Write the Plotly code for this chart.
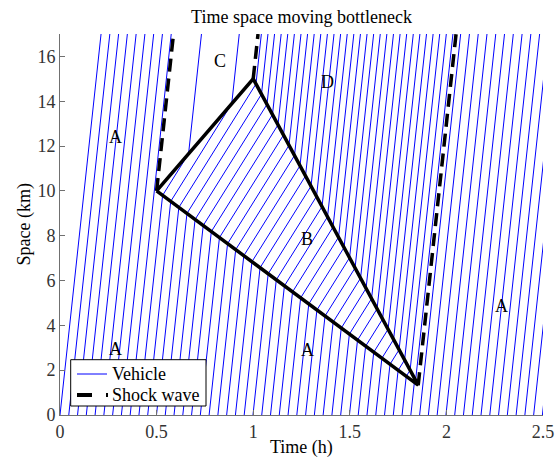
import plotly.graph_objects as go

# ---------------- data ----------------
# times (h) at which each vehicle trajectory leaves x = 0 km
vehicle_start_times = [
    0.0, 0.0454, 0.0908, 0.1362, 0.1816, 0.227, 0.2724, 0.3178, 0.3632, 0.4086,
    0.454, 0.4994, 0.5448, 0.5902, 0.6356, 0.681, 0.7264, 0.7718, 0.8172, 0.8626,
    0.908, 0.9534, 0.9988, 1.0442, 1.0896, 1.135, 1.1804, 1.2258, 1.2712, 1.3166,
    1.362, 1.4074, 1.4528, 1.4982, 1.5436, 1.589, 1.6344, 1.6798, 1.7252, 1.7706,
    1.816, 1.8614, 1.9068, 1.9522, 1.9976, 2.043, 2.0884, 2.1338, 2.1792, 2.2246,
    2.27, 2.3154, 2.3608, 2.4062, 2.4516, 2.497,
]
speed_free = 80.0    # km/h in states A, C, D
speed_queue = 13.8   # km/h in state B

# triangle (queue region B): bottleneck start, bottleneck exit, queue end
triangle_time = [0.5, 1.0, 1.854, 0.5]
triangle_space = [10.0, 15.0, 1.33, 10.0]

# dashed shock waves
shock_start_time = [0.5, 1.0, 1.854]
shock_start_space = [10.0, 15.0, 1.33]
shock_end_time = [0.5875, 1.025, 2.050]
shock_end_space = [17.0, 17.0, 17.0]

region_labels = ["A", "A", "A", "A", "B", "C", "D"]
label_time = [0.285, 0.285, 1.283, 2.285, 1.279, 0.828, 1.385]
label_space = [12.4, 2.93, 2.9, 4.88, 7.87, 15.78, 14.88]

legend_names = ["Vehicle", "Shock wave"]

time_ticks = [0, 0.5, 1, 1.5, 2, 2.5]
space_ticks = [0, 2, 4, 6, 8, 10, 12, 14, 16]
time_range = [0, 2.5]
space_range = [0, 17]

# ---------------- trajectories ----------------
P1 = (triangle_time[0], triangle_space[0])
P2 = (triangle_time[1], triangle_space[1])
P3 = (triangle_time[2], triangle_space[2])


def hit(t0, x0, v, a, b):
    (ta, xa), (tb, xb) = a, b
    den = (xb - xa) - v * (tb - ta)
    if abs(den) < 1e-12:
        return None
    s = (x0 + v * (ta - t0) - xa) / den
    if s < 0 or s > 1:
        return None
    t = ta + s * (tb - ta)
    if t <= t0 + 1e-9:
        return None
    return (t, xa + s * (xb - xa))


veh_t, veh_x = [], []
top = space_range[1]
for t0 in vehicle_start_times:
    pts = [(t0, 0.0)]
    h = hit(t0, 0.0, speed_free, P1, P3)
    if h is not None:
        pts.append(h)
        cands = [c for c in (hit(h[0], h[1], speed_queue, P1, P2),
                             hit(h[0], h[1], speed_queue, P2, P3)) if c is not None]
        if cands:
            c = min(cands, key=lambda p: p[0])
            pts.append(c)
    tl, xl = pts[-1]
    pts.append((tl + (top - xl) / speed_free, top))
    for t, x in pts:
        veh_t.append(t)
        veh_x.append(x)
    veh_t.append(None)
    veh_x.append(None)

sh_t, sh_x = [], []
for ts, xs, te, xe in zip(shock_start_time, shock_start_space, shock_end_time, shock_end_space):
    sh_t += [ts, te, None]
    sh_x += [xs, xe, None]

FONT = "Liberation Serif, Times New Roman, serif"
W, H = 560, 464
ML, MR, MT, MB = 60, 17, 34, 49
PW, PH = W - ML - MR, H - MT - MB


def px(xp):
    return (xp - ML) / PW


def py(yp):
    return (H - MB - yp) / PH


fig = go.Figure()
fig.add_trace(go.Scatter(x=veh_t, y=veh_x, mode="lines", name=legend_names[0],
                         showlegend=False, line=dict(color="#0000ff", width=1)))
fig.add_trace(go.Scatter(x=triangle_time, y=triangle_space, mode="lines",
                         showlegend=False, line=dict(color="black", width=3.5)))
fig.add_trace(go.Scatter(x=sh_t, y=sh_x, mode="lines", name=legend_names[1],
                         showlegend=False,
                         line=dict(color="black", width=3.5, dash="13px,7px")))

for lab, t, x in zip(region_labels, label_time, label_space):
    fig.add_annotation(x=t, y=x, text=lab, showarrow=False,
                       font=dict(family=FONT, size=18, color="black"))

# axis titles
fig.add_annotation(xref="paper", yref="paper", x=0.5, y=py(447), text="Time (h)",
                   showarrow=False, yanchor="middle",
                   font=dict(family=FONT, size=18, color="black"))
fig.add_annotation(xref="paper", yref="paper", x=px(24), y=0.5, text="Space (km)",
                   showarrow=False, textangle=-90, xanchor="center", yanchor="middle",
                   font=dict(family=FONT, size=18, color="black"))

# legend box (MATLAB style)
fig.add_shape(type="rect", xref="paper", yref="paper", layer="above",
              x0=px(70.7), x1=px(206), y0=py(406), y1=py(359.7),
              fillcolor="white", line=dict(color="black", width=1))
fig.add_shape(type="line", xref="paper", yref="paper", layer="above",
              x0=px(77), x1=px(107), y0=py(374), y1=py(374),
              line=dict(color="#0000ff", width=1))
fig.add_shape(type="line", xref="paper", yref="paper", layer="above",
              x0=px(77), x1=px(108), y0=py(395), y1=py(395),
              line=dict(color="black", width=4, dash="15px,14px"))
for name, yy in zip(legend_names, [374, 395]):
    fig.add_annotation(xref="paper", yref="paper", x=px(110), y=py(yy), text=name,
                       showarrow=False, xanchor="left", yanchor="middle",
                       font=dict(family=FONT, size=18, color="black"))

axis_common = dict(showgrid=False, zeroline=False, showline=True, linecolor="#707070",
                   linewidth=1, ticks="inside", ticklen=5, tickcolor="#707070",
                   tickfont=dict(family=FONT, size=18, color="#333333"), mirror=False,
                   automargin=False)

fig.update_layout(
    width=W, height=H,
    margin=dict(l=ML, r=MR, t=MT, b=MB, autoexpand=False),
    paper_bgcolor="white", plot_bgcolor="white",
    title=dict(text="Time space moving bottleneck", x=(ML + PW / 2) / W, xanchor="center",
               y=1 - 17 / H, yanchor="middle", yref="container",
               font=dict(family=FONT, size=18, color="black")),
    xaxis=dict(range=time_range, tickvals=time_ticks,
               ticktext=["0", "0.5", "1", "1.5", "2", "2.5"], **axis_common),
    yaxis=dict(range=space_range, tickvals=space_ticks, **axis_common),
    showlegend=False,
)

fig.write_html("out.html")
